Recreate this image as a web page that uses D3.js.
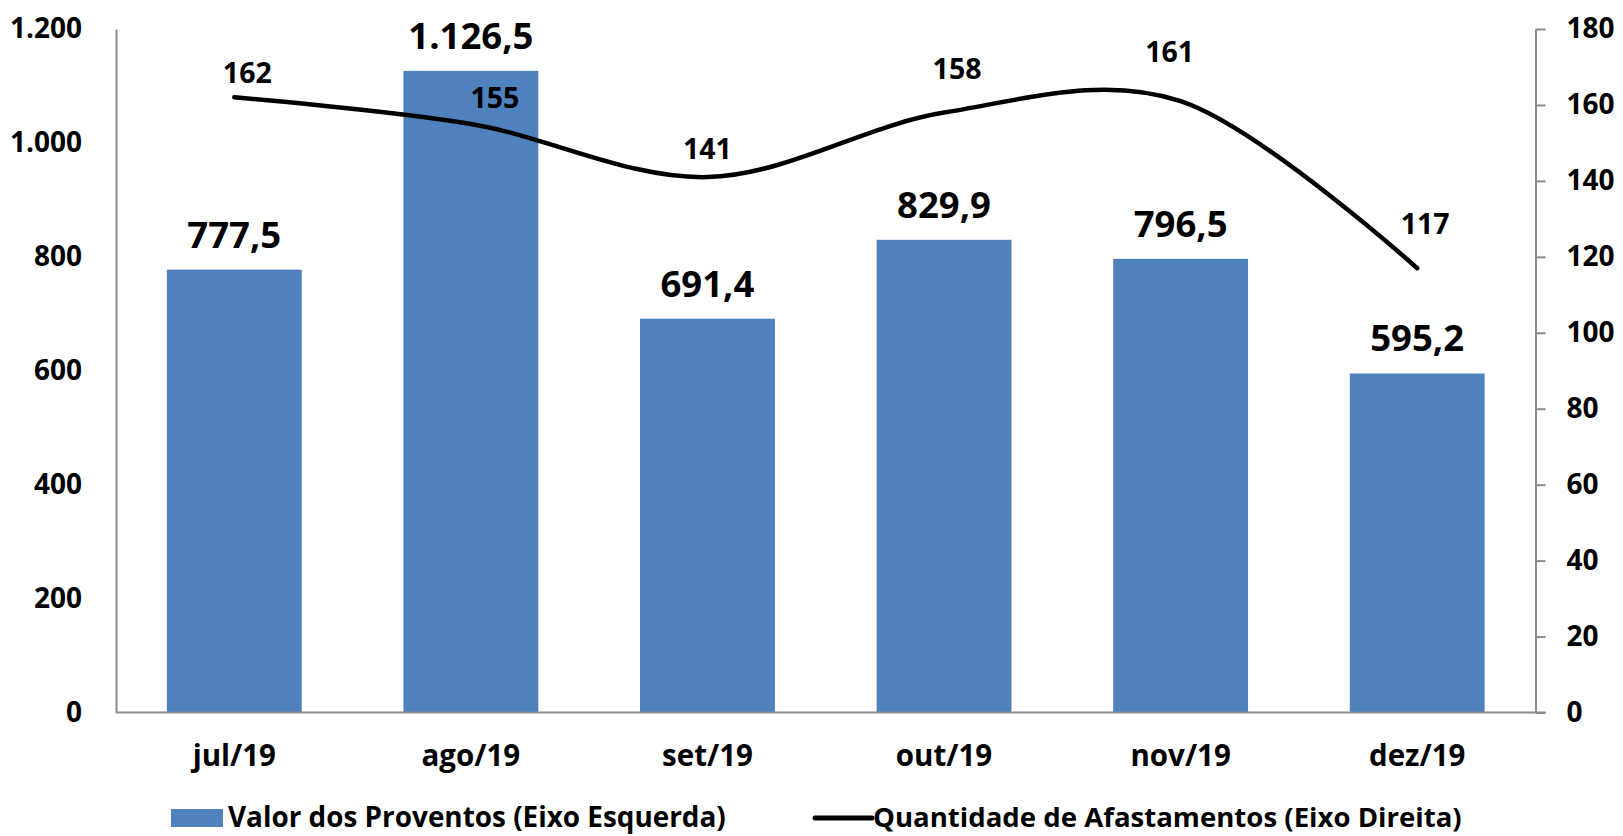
<!DOCTYPE html>
<html>
<head>
<meta charset="utf-8">
<script src="https://cdn.jsdelivr.net/npm/d3@7"></script>
<style>
  body { margin: 0; background: #fff; }
  text { font-family: "Open Sans", "Noto Sans", sans-serif; font-weight: bold; fill: #000; }
</style>
</head>
<body>
<svg id="chart" width="1623" height="836"></svg>
<script>
// Data
const months = ["jul/19", "ago/19", "set/19", "out/19", "nov/19", "dez/19"];
const proventos = [777.5, 1126.5, 691.4, 829.9, 796.5, 595.2];
const afastamentos = [162, 155, 141, 158, 161, 117];
const leftTicks = [0, 200, 400, 600, 800, 1000, 1200];
const rightTicks = [0, 20, 40, 60, 80, 100, 120, 140, 160, 180];
const legendLabels = ["Valor dos Proventos (Eixo Esquerda)", "Quantidade de Afastamentos (Eixo Direita)"];

const ptBR = d3.formatLocale({decimal: ",", thousands: ".", grouping: [3], currency: ["R$", ""]});
const fmtBar = ptBR.format(",.1f");
const fmtTick = ptBR.format(",d");

const svg = d3.select("#chart");

// plot area
const plotLeft = 116, plotRight = 1535.5, plotTop = 29, plotBottom = 712.5;
const axisColor = "#8c8c8c";
const barColor = "#4f81bd";

let x = d3.scaleBand()
  .domain(months)
  .range([plotLeft, plotRight])
  .paddingInner(0.43)
  .paddingOuter(0.215);

let yLeft = d3.scaleLinear().domain([0, 1200]).range([plotBottom, plotTop]);
let yRight = d3.scaleLinear().domain([0, 180]).range([plotBottom, plotTop]);

// bars
svg.append("g").selectAll("rect")
  .data(proventos)
  .join("rect")
  .attr("x", (d, i) => x(months[i]))
  .attr("y", d => yLeft(d))
  .attr("width", x.bandwidth())
  .attr("height", d => plotBottom - yLeft(d))
  .attr("fill", barColor);

// bar labels
svg.append("g").selectAll("text")
  .data(proventos)
  .join("text")
  .attr("x", (d, i) => x(months[i]) + x.bandwidth() / 2)
  .attr("y", d => yLeft(d) - 22)
  .attr("text-anchor", "middle")
  .style("font-size", "36.5px")
  .text(d => fmtBar(d));

// left axis (line only, labels)
let axL = svg.append("g")
  .attr("transform", "translate(" + plotLeft + ",0)")
  .call(d3.axisLeft(yLeft).tickValues(leftTicks).tickSize(0).tickPadding(34).tickFormat(fmtTick));
axL.select(".domain").attr("stroke", axisColor).attr("stroke-width", 2);
axL.selectAll(".tick text").style("font-size", "28px").attr("font-family", null);

// right axis
let axR = svg.append("g")
  .attr("transform", "translate(" + plotRight + ",0)")
  .call(d3.axisRight(yRight).tickValues(rightTicks).tickSize(10).tickSizeOuter(0).tickPadding(21).tickFormat(fmtTick));
axR.select(".domain").attr("stroke", axisColor).attr("stroke-width", 2);
axR.selectAll(".tick line").attr("stroke", axisColor).attr("stroke-width", 2);
axR.selectAll(".tick text").style("font-size", "28px").attr("font-family", null);

// baseline / x axis
let axX = svg.append("g")
  .attr("transform", "translate(0," + plotBottom + ")")
  .call(d3.axisBottom(x).tickSize(0).tickPadding(33));
axX.select(".domain").attr("stroke", axisColor).attr("stroke-width", 2)
  .attr("d", "M" + plotLeft + ",0H" + (plotRight + 10));
axX.selectAll(".tick text").style("font-size", "29.5px").attr("font-family", null);

// smoothed line for the right axis
let pts = afastamentos.map((d, i) => [x(months[i]) + x.bandwidth() / 2, yRight(d)]);
svg.append("path")
  .attr("d", d3.line().curve(d3.curveCardinal.tension(0))(pts))
  .attr("fill", "none")
  .attr("stroke", "#000")
  .attr("stroke-width", 4.5)
  .attr("stroke-linecap", "round");

// line labels, nudged like the original
const nudge = [[13, -24], [24, -26], [0, -28], [13, -44], [-11, -49], [8, -44]];
svg.append("g").selectAll("text")
  .data(afastamentos)
  .join("text")
  .attr("x", (d, i) => pts[i][0] + nudge[i][0])
  .attr("y", (d, i) => pts[i][1] + nudge[i][1] + 10)
  .attr("text-anchor", "middle")
  .style("font-size", "28.5px")
  .text(d => d);

// legend -- font size fitted so each entry spans the same width as the original
function fitText(t, width) {
  let w = t.node().getComputedTextLength();
  let fs = parseFloat(t.style("font-size"));
  t.style("font-size", (fs * width / w).toFixed(2) + "px");
}
let lg = svg.append("g");
lg.append("rect").attr("x", 171).attr("y", 809).attr("width", 52).attr("height", 18).attr("fill", barColor);
let lt1 = lg.append("text").attr("x", 228).attr("y", 826.5).style("font-size", "27px").text(legendLabels[0]);
fitText(lt1, 498);
lg.append("line").attr("x1", 815).attr("x2", 872).attr("y1", 818).attr("y2", 818)
  .attr("stroke", "#000").attr("stroke-width", 5).attr("stroke-linecap", "round");
let lt2 = lg.append("text").attr("x", 873).attr("y", 826.5).style("font-size", "27px").text(legendLabels[1]);
fitText(lt2, 589);
</script>
</body>
</html>
